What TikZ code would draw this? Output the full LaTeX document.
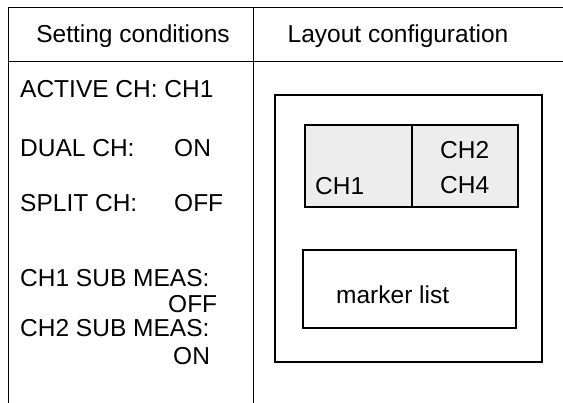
\documentclass[tikz,border=0pt]{standalone}
\usepackage{fontspec}
\setmainfont{Liberation Sans}
\begin{document}
\begin{tikzpicture}[x=1pt,y=-1pt,
  rule/.style={draw=black,line width=1pt},
  frame/.style={draw=black,line width=1.1pt},
  chbox/.style={draw=black,line width=1.1pt,fill=black!7},
  txt/.style={font=\fontsize{24.5}{28}\selectfont,inner sep=0pt,anchor=base west},
  head/.style={font=\fontsize{24.5}{28}\selectfont,inner sep=0pt,anchor=base}]
\useasboundingbox[fill=white] (0,0) rectangle (563,403);
% table rules
\coordinate (tl) at (8,8);
\coordinate (tr) at (563,8);
\coordinate (hl) at (8,62);
\coordinate (hr) at (563,62);
\coordinate (bl) at (8,403);
\coordinate (dt) at (253,8);
\coordinate (db) at (253,403);
\draw[rule] (bl) -- (tl) -- (tr);
\draw[rule] (hl) -- (hr);
\draw[rule] (dt) -- (db);
% headers
\node[head] (h1) at (133,43) {Setting conditions};
\node[head] (h2) at (398,43) {Layout configuration};
% settings
\node[txt] (s1) at (20,98) {ACTIVE CH: CH1};
\node[txt] (s2) at (20,157) {DUAL CH:};
\node[txt] (s2v) at (174,157) {ON};
\node[txt] (s3) at (20,212) {SPLIT CH:};
\node[txt] (s3v) at (174,212) {OFF};
\node[txt] (s4) at (20,287) {CH1 SUB MEAS:};
\node[txt] (s4v) at (168,313) {OFF};
\node[txt] (s5) at (20,337) {CH2 SUB MEAS:};
\node[txt] (s5v) at (173,365) {ON};
% layout
\draw[frame] (275,95) rectangle (542,362);
\draw[chbox] (305,125) rectangle (412,207);
\draw[chbox] (412,125) rectangle (518,207);
\node[txt] (c1) at (315,195) {CH1};
\node[txt] (c2) at (440,159) {CH2};
\node[txt] (c4) at (440,194) {CH4};
\draw[frame] (303,250) rectangle (516,328);
\node[txt] (ml) at (336,304) {marker list};
\end{tikzpicture}
\end{document}
